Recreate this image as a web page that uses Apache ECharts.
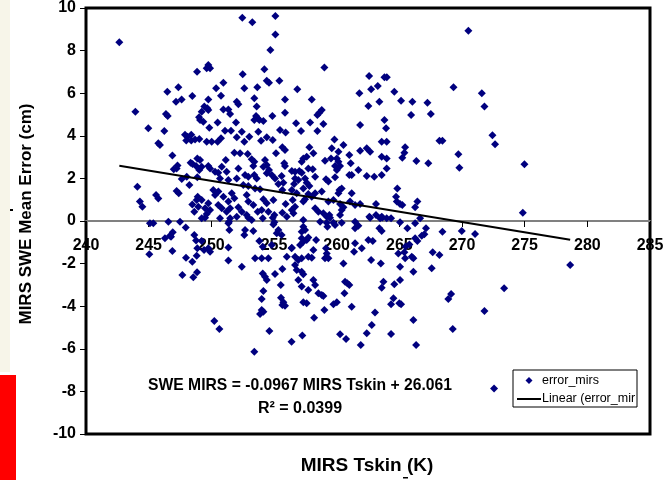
<!DOCTYPE html>
<html>
<head>
<meta charset="utf-8">
<title>MIRS SWE Mean Error vs MIRS Tskin</title>
<script src="https://cdn.jsdelivr.net/npm/echarts@6/dist/echarts.min.js"></script>
<style>
  html, body { margin: 0; padding: 0; background: #ffffff; }
  #chart { width: 667px; height: 480px; }
</style>
</head>
<body>
<div id="chart"></div>
<script>
// Axis ranges and tick labels
const tskinTicks = [240, 245, 250, 255, 260, 265, 270, 275, 280, 285];
const errorTicks = [-10, -8, -6, -4, -2, 0, 2, 4, 6, 8, 10];

// Linear fit reported on the chart
const trendSlope = -0.0967;
const trendIntercept = 26.061;
const trendLabel = 'SWE MIRS = -0.0967 MIRS Tskin + 26.061';
const r2Label = 'R² = 0.0399';

// error_mirs samples: [MIRS Tskin (K), SWE mean error (cm)]
const errorMirs = [
  [242.66,8.39],[252.47,9.54],[253.27,9.33],[255.11,9.62],[255.11,8.76],[254.71,8.03],[270.51,8.93],
  // 243 - 249 K
  [248.86,7.01],[247.37,6.28],[246.49,6.07],[248.48,5.87],[247.18,5.6],[247.63,5.71],[243.94,5.13],
  [246.38,5.02],[246.52,4.93],[249.02,4.87],[244.97,4.35],[246.25,4.23],[247.9,4.05],[248.4,4.05],
  [248.0,3.78],[248.4,3.78],[248.7,3.83],[248.1,3.95],[249.04,3.85],[245.77,3.65],[245.9,3.57],
  [246.89,3.07],[248.35,2.74],[248.5,2.68],[248.88,2.94],[247.23,2.47],[247.0,2.43],[247.3,2.6],
  [248.78,2.58],[249.04,2.39],[247.64,1.97],[248.04,2.08],[244.1,1.61],[248.25,1.69],[248.88,2.05],
  [245.59,1.22],[245.77,1.06],[247.23,1.41],[247.4,1.3],[244.3,0.91],[244.5,0.67],[248.48,0.78],
  [248.83,0.99],[248.64,0.44],[248.96,0.67],[245.1,-0.11],[245.37,-0.11],[246.57,-0.03],[247.5,-0.03],
  [247.96,-0.31],[245.05,-1.56],[246.3,-0.81],[246.7,-0.69],[246.92,-0.53],[246.78,-0.74],[246.89,-1.41],
  [247.98,-1.72],[248.48,-1.91],[248.83,-1.63],[248.56,-2.64],[247.69,-2.54],[248.86,-2.41],[248.64,-0.66],
  [248.78,-0.91],[248.88,-1.28],
  // 249 - 256 K, above zero
  [249.76,7.32],[249.63,7.17],[249.9,7.17],[254.23,7.12],[252.5,6.89],[250.96,6.49],[254.42,6.59],
  [254.6,6.49],[255.43,6.59],[250.38,6.23],[252.63,6.23],[253.67,6.28],[250.77,5.88],[253.43,5.76],
  [249.76,5.71],[252.03,5.6],[252.16,5.48],[255.88,5.71],[249.44,5.37],[249.76,5.21],[249.23,5.13],
  [249.68,5.29],[250.96,5.24],[251.36,5.24],[253.62,5.37],[255.88,5.08],[251.5,5.02],[253.57,4.93],
  [253.43,4.74],[253.83,4.74],[254.15,4.69],[253.7,4.82],[254.87,4.93],[249.1,4.74],[249.36,4.66],
  [250.5,4.62],[251.97,4.62],[249.84,4.38],[251.09,4.24],[251.57,4.24],[252.43,4.19],[253.03,3.96],
  [253.75,4.19],[254.42,3.93],[254.9,3.8],[255.48,4.27],[252.03,3.93],[249.63,3.72],[250.03,3.72],
  [250.5,3.72],[250.77,3.88],[252.63,3.72],[253.97,3.77],[255.93,4.15],[255.67,3.46],[255.88,3.33],
  [255.16,3.18],[251.84,3.21],[252.29,3.18],[252.9,3.15],[253.22,2.9],[253.43,2.78],[253.35,2.58],
  [249.1,2.86],[251.15,2.86],[250.83,2.55],[251.22,2.31],[254.28,2.86],[254.42,2.63],[254.15,2.55],
  [254.6,2.39],[255.82,2.71],[255.88,2.58],[249.23,2.55],[249.76,2.58],[249.9,2.47],[250.3,2.31],
  [250.55,2.27],[250.69,2.0],[252.16,2.47],[252.69,2.16],[252.95,2.08],[253.43,2.16],[253.62,2.0],
  [254.42,2.24],[254.82,2.16],[255.08,2.0],[255.61,2.11],[251.36,1.92],[252.03,2.0],[252.55,1.69],
  [252.95,1.64],[253.49,1.53],[253.89,1.49],[255.35,1.74],[255.75,1.8],[255.67,1.46],[250.16,1.46],
  [250.56,1.38],[250.3,1.22],[248.91,1.14],[249.23,0.99],[250.96,1.14],[251.63,1.3],[251.84,1.07],
  [252.82,1.22],[252.95,0.91],[253.35,0.75],[254.15,1.02],[254.42,0.83],[254.95,0.99],[255.93,0.8],
  [249.76,0.83],[249.5,0.6],[249.9,0.52],[250.55,0.75],[250.83,0.6],[251.36,0.91],[251.5,0.6],
  [251.22,0.44],[252.16,0.64],[252.43,0.44],[253.7,0.44],[254.02,0.52],[254.55,0.44],[255.03,0.28],
  [255.67,0.39],[256.02,0.2],[249.63,0.33],[249.23,0.13],[250.69,0.13],[251.5,0.13],[252.03,0.2],
  [252.82,0.28],
  // 249 - 256 K, below zero
  [249.5,0.15],[251.41,-0.03],[252.95,0.15],[253.22,0.05],[254.1,0.13],[254.9,0.15],[255.03,-0.06],
  [251.44,-0.42],[251.36,-0.11],[252.69,-0.42],[252.63,-0.66],[253.35,-0.47],[254.95,-0.16],[255.22,-0.58],
  [255.35,-0.42],[255.61,-0.66],[249.23,-0.94],[249.76,-1.28],[249.9,-1.44],[249.42,-1.36],[251.36,-1.24],
  [253.83,-0.94],[254.1,-1.21],[254.82,-1.13],[256.4,-1.28],[256.02,-1.68],[253.49,-1.75],[254.02,-1.75],
  [254.55,-1.75],[251.36,-1.86],[252.43,-2.15],[254.1,-2.46],[254.28,-2.62],[254.42,-2.77],[255.08,-2.49],
  [255.67,-2.25],[255.54,-3.0],[254.15,-3.29],[254.02,-3.66],[255.56,-3.6],[255.75,-3.82],[255.88,-3.98],
  [255.67,-3.94],[254.02,-4.18],[253.89,-4.37],[254.15,-4.26],[250.24,-4.69],[250.64,-5.07],[254.63,-5.16],
  [253.43,-6.14],[256.4,-5.67],
  // 256 - 264 K, above zero
  [259.02,7.21],[256.86,6.18],[262.59,6.81],[263.81,6.75],[264.0,6.75],[262.75,6.18],[263.28,6.34],
  [261.81,6.0],[258.01,5.71],[263.41,5.6],[262.53,5.4],[258.81,5.21],[258.62,5.08],[258.46,4.98],
  [256.76,4.59],[257.16,4.23],[257.88,4.62],[258.94,4.55],[258.46,4.23],[261.87,4.51],[263.81,4.74],
  [263.94,4.35],[259.82,3.83],[263.59,3.72],[263.99,3.72],[257.82,3.46],[258.14,3.18],[259.61,3.41],
  [260.14,3.25],[260.54,3.57],[261.87,3.3],[262.4,3.41],[262.67,3.25],[257.34,2.94],[257.21,2.78],
  [257.61,3.02],[259.07,2.83],[259.55,2.94],[260.01,2.94],[260.14,2.78],[259.87,2.58],[260.27,2.58],
  [260.01,2.39],[261.01,3.1],[261.12,2.71],[263.59,3.02],[263.99,2.94],[256.42,2.35],[256.68,2.31],
  [257.02,2.35],[257.21,2.27],[257.74,2.47],[258.09,2.43],[258.28,2.08],[259.15,1.96],[259.34,1.85],
  [259.87,2.05],[261.01,2.16],[261.2,2.16],[261.73,2.39],[262.4,2.11],[263.0,2.08],[263.59,2.16],
  [263.99,2.47],[256.68,2.0],[256.94,1.92],[257.48,2.0],[257.61,1.8],[257.34,1.53],[257.82,1.64],
  [256.6,1.74],[256.42,1.46],[256.81,1.3],[260.22,1.46],[260.4,1.53],[260.14,1.3],[261.2,1.3],
  [258.81,1.38],[258.28,1.3],[257.74,1.27],[258.01,1.14],[257.48,1.02],[257.34,0.91],[259.34,0.91],
  [259.74,0.99],[260.27,0.8],[260.54,0.64],[261.07,0.91],[261.47,0.75],[261.87,0.8],[263.14,0.8],
  [256.49,0.99],[256.68,0.67],[256.42,0.52],[256.55,0.36],[258.28,0.6],[258.54,0.44],[258.94,0.36],
  [259.42,0.28],[260.4,0.52],[260.27,0.28],[262.61,0.2],[263.14,0.28],[263.59,0.2],[257.34,0.05],
  [258.68,-0.03],[259.21,-0.08],[259.74,-0.08],[260.4,-0.08],[261.47,-0.03],
  // 256 - 264 K, below zero
  [259.21,0.2],[259.47,0.15],[259.87,-0.19],[259.26,-0.27],[261.47,-0.34],[261.73,-0.22],[262.67,0.15],
  [263.46,0.13],[263.41,-0.34],[263.59,-0.47],[263.99,0.13],[257.34,-0.27],[257.48,-0.42],[257.21,-0.5],
  [257.21,-0.81],[257.34,-0.97],[257.61,-0.89],[257.74,-0.78],[257.08,-1.13],[256.42,-1.25],[258.36,-0.89],
  [258.14,-1.36],[259.15,-1.28],[259.21,-1.52],[259.34,-1.75],[259.07,-1.75],[261.47,-1.05],[261.39,-1.44],
  [262.0,-1.28],[262.53,-0.89],[262.88,-0.94],[262.75,-1.83],[263.52,-1.99],[256.68,-1.68],[256.94,-1.83],
  [257.21,-1.75],[257.74,-1.68],[258.01,-1.72],[256.68,-2.07],[256.81,-2.3],[257.21,-2.38],[257.34,-2.5],
  [260.54,-1.99],[256.94,-2.77],[257.21,-3.08],[258.14,-2.77],[258.28,-3.0],[257.74,-3.24],[258.54,-3.39],
  [258.81,-3.47],[258.94,-3.52],[260.67,-2.85],[260.85,-2.92],[261.01,-3.0],[260.62,-3.39],[263.73,-2.85],
  [263.59,-3.13],[257.34,-3.82],[257.61,-3.86],[259.74,-3.91],[260.01,-3.82],[261.2,-4.02],[259.02,-4.18],
  [263.06,-4.3],[258.2,-4.54],[262.8,-4.88],[262.4,-5.27],[260.27,-5.32],[260.75,-5.54],[261.92,-5.82],
  [257.26,-5.38],
  // 264 K and warmer
  [264.6,6.07],[265.14,5.65],[266.04,5.6],[267.24,5.55],[269.32,6.28],[271.58,6.0],[271.79,5.37],
  [265.94,4.98],[267.51,5.02],[268.2,3.77],[268.44,3.77],[265.46,3.46],[265.4,3.21],[265.24,2.97],
  [266.36,2.82],[267.31,2.71],[269.71,3.13],[269.79,2.5],[264.84,1.53],[264.74,1.14],[264.8,0.91],
  [265.06,0.8],[265.24,0.75],[266.44,0.91],[266.26,0.64],[264.34,0.13],[265.06,-0.06],[266.26,-0.11],
  [266.66,0.13],[272.43,4.02],[272.64,3.6],[274.98,2.66],[274.85,0.39],[263.65,0.17],[265.64,-0.34],
  [267.13,-0.34],[267.0,-0.62],[266.79,-0.69],[266.26,-0.81],[266.44,-0.94],[268.44,-0.5],[269.98,-0.47],
  [271.04,-0.61],[271.79,-4.23],[264.92,-1.52],[265.4,-1.47],[265.46,-1.75],[265.99,-1.68],[266.12,-1.75],
  [265.06,-2.15],[266.12,-2.38],[267.66,-1.47],[268.2,-1.6],[267.58,-2.22],[264.6,-2.97],[265.06,-2.77],
  [264.34,-3.91],[264.53,-3.63],[265.0,-3.86],[265.14,-3.91],[268.91,-3.66],[269.13,-3.43],[266.12,-4.65],
  [264.34,-5.31],[266.34,-5.82],[269.26,-5.07],[278.63,-2.07],[273.36,-3.16],[272.56,-7.86],[265.5,-1.2],
  [265.8,-1.1]
];

// Fitted line spans the sampled Tskin range
const tskinValues = errorMirs.map(p => p[0]);
const tMin = Math.min.apply(null, tskinValues);
const tMax = Math.max.apply(null, tskinValues);
const trendLine = [tMin, tMax].map(t => [t, trendSlope * t + trendIntercept]);

const FONT = '"Liberation Sans", Arial, Helvetica, sans-serif';
const GRID_TOP = 8, GRID_BOTTOM = 46, HEIGHT = 480;
const chart = echarts.init(document.getElementById('chart'), null, { renderer: 'canvas' });

// Lift the value axis from the plot bottom up to the zero line
const plotHeight = HEIGHT - GRID_TOP - GRID_BOTTOM;
const zeroFrac = (errorTicks[errorTicks.length - 1] - 0) / (errorTicks[errorTicks.length - 1] - errorTicks[0]);
const zeroOffset = -Math.round(plotHeight * (1 - zeroFrac));

chart.setOption({
  animation: false,
  backgroundColor: '#ffffff',
  grid: {
    left: 86, right: 17, top: GRID_TOP, bottom: GRID_BOTTOM,
    show: true, borderColor: '#000000', borderWidth: 3, backgroundColor: 'transparent'
  },
  xAxis: {
    type: 'value',
    min: tskinTicks[0], max: tskinTicks[tskinTicks.length - 1], interval: 5,
    offset: zeroOffset,
    axisLine: { show: true, onZero: false, lineStyle: { color: '#808080', width: 2 } },
    axisTick: { show: true, length: 6, lineStyle: { color: '#000000', width: 1 } },
    axisLabel: {
      show: true, margin: 17, color: '#000000', fontFamily: FONT, fontWeight: 'bold', fontSize: 16,
      showMinLabel: true, showMaxLabel: true
    },
    splitLine: { show: false }
  },
  yAxis: {
    type: 'value',
    min: errorTicks[0], max: errorTicks[errorTicks.length - 1], interval: 2,
    axisLine: { show: false },
    axisTick: { show: true, length: 6, lineStyle: { color: '#000000', width: 1 } },
    axisLabel: { margin: 10, color: '#000000', fontFamily: FONT, fontWeight: 'bold', fontSize: 16 },
    splitLine: { show: false }
  },
  series: [
    {
      name: 'error_mirs',
      type: 'scatter',
      data: errorMirs,
      symbol: 'diamond',
      symbolSize: 8,
      itemStyle: { color: '#00007f', opacity: 1 },
      z: 3
    },
    {
      name: 'Linear (error_mirs)',
      type: 'line',
      data: trendLine,
      showSymbol: false,
      lineStyle: { color: '#000000', width: 2 },
      z: 4
    }
  ],
  graphic: [
    { type: 'rect', shape: { x: 0, y: 0, width: 10, height: 372 }, style: { fill: '#f7f5e9' }, silent: true },
    { type: 'rect', shape: { x: 0, y: 375, width: 16, height: 105 }, style: { fill: '#ff0000' }, silent: true },
    { type: 'rect', shape: { x: 10, y: 209, width: 3, height: 2 }, style: { fill: '#000000' }, silent: true },
    { type: 'rect', shape: { x: 403, y: 477, width: 5, height: 1.5 }, style: { fill: '#000000' }, silent: true },
    {
      type: 'text', x: 26, y: 214, rotation: Math.PI / 2,
      style: { text: 'MIRS SWE Mean Error (cm)', font: 'bold 17px ' + FONT, fill: '#000000', align: 'center', verticalAlign: 'middle' }
    },
    {
      type: 'text', x: 367, y: 466,
      style: { text: 'MIRS Tskin (K)', font: 'bold 19px ' + FONT, fill: '#000000', align: 'center', verticalAlign: 'middle' }
    },
    {
      type: 'text', x: 148, y: 386,
      style: { text: trendLabel, font: 'bold 15.7px ' + FONT, fill: '#000000', align: 'left', verticalAlign: 'middle' }
    },
    {
      type: 'text', x: 300, y: 409,
      style: { text: r2Label, font: 'bold 16px ' + FONT, fill: '#000000', align: 'center', verticalAlign: 'middle' }
    },
    {
      type: 'group', x: 513, y: 370,
      children: [
        { type: 'rect', shape: { x: 0, y: 0, width: 124, height: 37 }, style: { fill: '#ffffff', stroke: '#000000', lineWidth: 1 } },
        { type: 'polygon', shape: { points: [[16, 7], [19.5, 10.5], [16, 14], [12.5, 10.5]] }, style: { fill: '#00007f' } },
        { type: 'text', x: 29, y: 10.5, style: { text: 'error_mirs', font: '12.5px ' + FONT, fill: '#000000', verticalAlign: 'middle' } },
        { type: 'line', shape: { x1: 4, y1: 29, x2: 28, y2: 29 }, style: { stroke: '#000000', lineWidth: 2 } },
        {
          type: 'text', x: 29, y: 28.5,
          style: { text: 'Linear (error_mirs)', font: '12.5px ' + FONT, fill: '#000000', verticalAlign: 'middle', width: 96, overflow: 'truncate', ellipsis: '' }
        }
      ]
    }
  ]
});
</script>
</body>
</html>
